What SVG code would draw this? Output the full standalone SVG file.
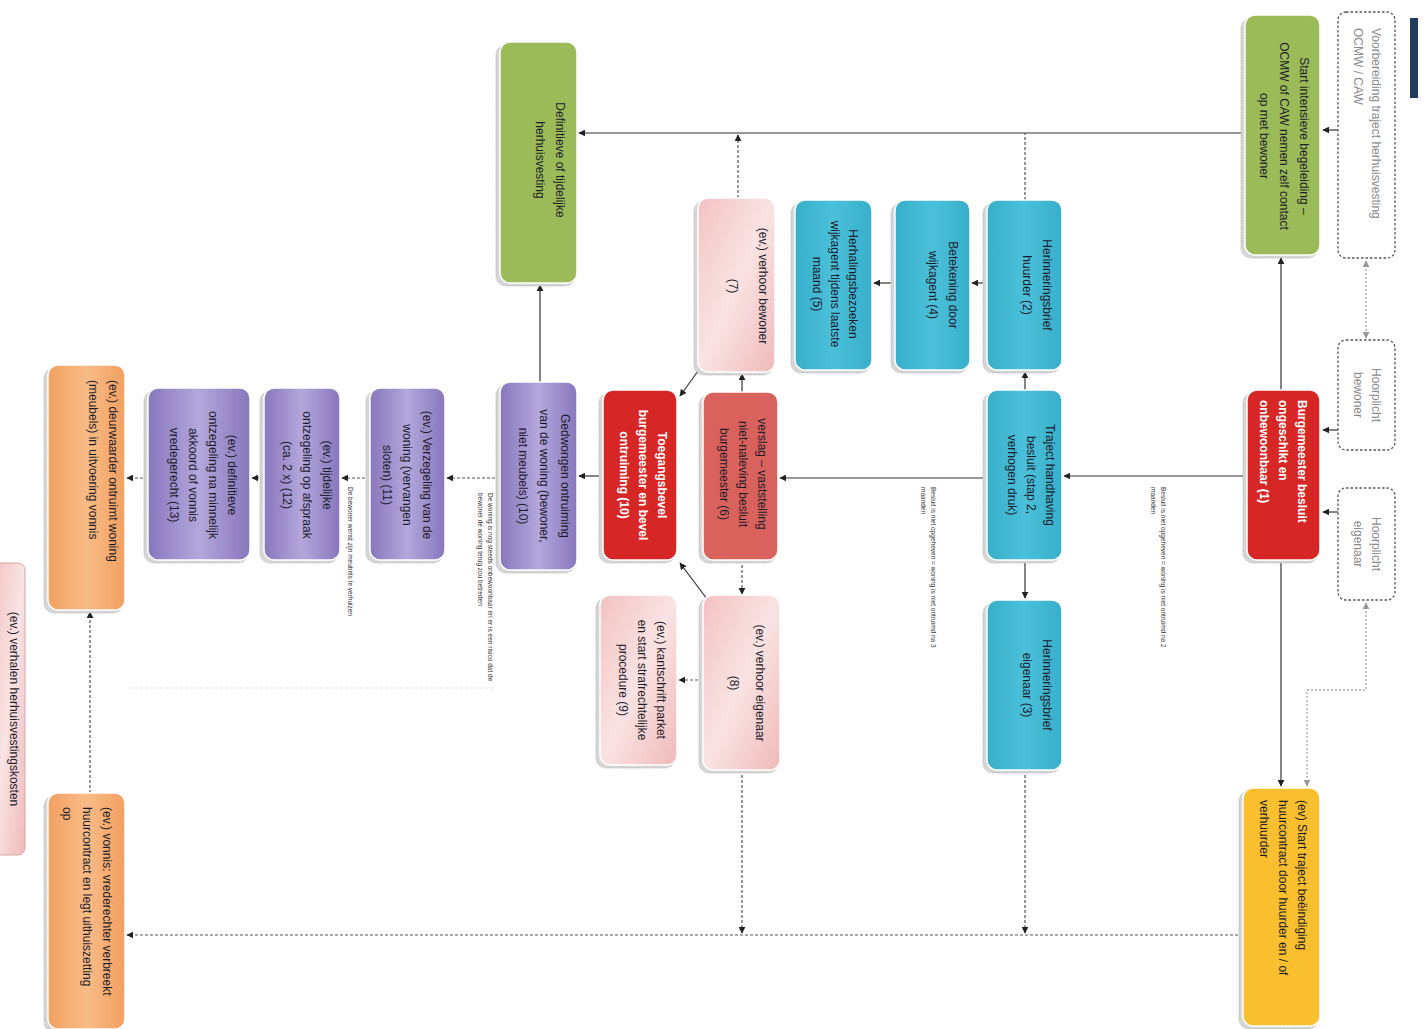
<svg xmlns="http://www.w3.org/2000/svg" width="1428" height="1029" viewBox="0 0 1428 1029">
<defs>
<marker id="ah" viewBox="0 0 10 10" refX="9" refY="5" markerWidth="7" markerHeight="7" orient="auto-start-reverse" markerUnits="userSpaceOnUse"><path d="M0,0 L10,5 L0,10 z" fill="#222"/></marker>
<marker id="ahg" viewBox="0 0 10 10" refX="9" refY="5" markerWidth="7" markerHeight="7" orient="auto-start-reverse" markerUnits="userSpaceOnUse"><path d="M0,0 L10,5 L0,10 z" fill="#999"/></marker>
<linearGradient id="gPink" x1="0" y1="0" x2="1" y2="1"><stop offset="0" stop-color="#f3c2c2"/><stop offset="0.5" stop-color="#fae3e3"/><stop offset="1" stop-color="#f0b9b9"/></linearGradient>
<linearGradient id="gPurple" x1="0" y1="0" x2="1" y2="0"><stop offset="0" stop-color="#8877bc"/><stop offset="0.5" stop-color="#b3a7dc"/><stop offset="1" stop-color="#8877bc"/></linearGradient>
<linearGradient id="gBlue" x1="0" y1="0" x2="1" y2="0"><stop offset="0" stop-color="#37afcb"/><stop offset="0.5" stop-color="#4cc0da"/><stop offset="1" stop-color="#37afcb"/></linearGradient>
<linearGradient id="gOrange" x1="0" y1="0" x2="1" y2="0"><stop offset="0" stop-color="#f3a060"/><stop offset="0.5" stop-color="#f8bb86"/><stop offset="1" stop-color="#f3a060"/></linearGradient>
</defs>
<style>
text{font-family:"Liberation Sans",Arial,sans-serif;font-size:12px;fill:#1c1c2a}
.w{fill:#ffffff;font-weight:bold}
.g{fill:#8a8a8a}
.sm{font-size:6.5px;fill:#333}
.sh{fill:#d6d6d6;stroke:#b0b0b0;stroke-width:0.8;stroke-dasharray:1.5 1}
.box{stroke:#ffffff;stroke-width:1.5}
.dash{fill:#ffffff;stroke:#555;stroke-width:1.3;stroke-dasharray:2.5 2}
.green{fill:#9bbb59}
.red{fill:#d72626}
.mred{fill:#d9625c}
.blue{fill:url(#gBlue)}
.pink{fill:url(#gPink)}
.purple{fill:url(#gPurple)}
.orange{fill:url(#gOrange)}
.yellow{fill:#f9bf2e}
.c{fill:none;stroke:#333;stroke-width:1.2}
.cd{fill:none;stroke:#555;stroke-width:1.2;stroke-dasharray:3 2}
.cg{fill:none;stroke:#aaa;stroke-width:1.4;stroke-dasharray:2 2}
</style>
<rect width="1428" height="1029" fill="#ffffff"/>
<rect x="1410" y="18" width="8" height="80" fill="#1f3c5c"/>

<g id="connectors">
<line class="c" x1="1338" y1="130" x2="1323" y2="130" marker-end="url(#ah)"/>
<line class="c" x1="1281" y1="390" x2="1281" y2="258" marker-end="url(#ah)"/>
<line class="c" x1="1281" y1="560" x2="1281" y2="786" marker-end="url(#ah)"/>
<line class="c" x1="1245" y1="133" x2="579" y2="133" marker-end="url(#ah)"/>
<line class="c" x1="1247" y1="476" x2="1064" y2="476" marker-end="url(#ah)"/>
<line class="c" x1="1338" y1="430" x2="1323" y2="430" marker-end="url(#ah)"/>
<line class="c" x1="1338" y1="512" x2="1323" y2="512" marker-end="url(#ah)"/>
<line class="cg" x1="1366" y1="261" x2="1366" y2="338" marker-start="url(#ahg)" marker-end="url(#ahg)"/>
<path class="cg" d="M1366,603 V690 H1307 V786" marker-start="url(#ahg)" marker-end="url(#ahg)"/>
<line class="cd" x1="1243" y1="935" x2="127" y2="935" marker-end="url(#ah)"/>
<line class="c" x1="1025" y1="390" x2="1025" y2="372" marker-end="url(#ah)"/>
<line class="c" x1="1025" y1="560" x2="1025" y2="598" marker-end="url(#ah)"/>
<line class="c" x1="987" y1="283" x2="972" y2="283" marker-end="url(#ah)"/>
<line class="c" x1="895" y1="283" x2="874" y2="283" marker-end="url(#ah)"/>
<line class="cd" x1="1025" y1="200" x2="1025" y2="133"/>
<line class="cd" x1="1025" y1="770" x2="1025" y2="933" marker-end="url(#ah)"/>
<line class="c" x1="987" y1="478" x2="780" y2="478" marker-end="url(#ah)"/>
<line class="c" x1="742" y1="392" x2="742" y2="374" marker-end="url(#ah)"/>
<line class="cd" x1="742" y1="560" x2="742" y2="594" marker-end="url(#ah)"/>
<line class="cd" x1="738" y1="198" x2="738" y2="135" marker-end="url(#ah)"/>
<line class="cd" x1="742" y1="770" x2="742" y2="933" marker-end="url(#ah)"/>
<line class="c" x1="706" y1="360" x2="680" y2="396" marker-end="url(#ah)"/>
<line class="c" x1="713" y1="607" x2="680" y2="563" marker-end="url(#ah)"/>
<line class="cd" x1="703" y1="680" x2="679" y2="680" marker-end="url(#ah)"/>
<line class="c" x1="603" y1="476" x2="579" y2="476" marker-end="url(#ah)"/>
<line class="c" x1="540" y1="382" x2="540" y2="285" marker-end="url(#ah)"/>
<line class="cd" x1="500" y1="478" x2="447" y2="478" marker-end="url(#ah)"/>
<line class="cd" x1="370" y1="478" x2="342" y2="478" marker-end="url(#ah)"/>
<line class="cd" x1="264" y1="478" x2="252" y2="478" marker-end="url(#ah)"/>
<line class="cd" x1="148" y1="478" x2="127" y2="478" marker-end="url(#ah)"/>
<line class="cd" x1="90" y1="793" x2="90" y2="612" marker-end="url(#ah)"/>
<line x1="130" y1="688" x2="495" y2="688" stroke="#e4e4e4" stroke-width="1.2" stroke-dasharray="3 2"/>
<text class="sm" transform="translate(1163,487) rotate(90)"><tspan x="0" y="2">Besluit is niet opgeheven = woning is niet ontruimd na 2</tspan><tspan x="0" dy="10">maanden</tspan></text>
<text class="sm" transform="translate(933,487) rotate(90)"><tspan x="0" y="2">Besluit is niet opgeheven = woning is niet ontruimd na 3</tspan><tspan x="0" dy="10">maanden</tspan></text>
<text class="sm" transform="translate(490,493) rotate(90)"><tspan x="0" y="2">De woning is nog steeds onbewoonbaar en er is een risico dat de</tspan><tspan x="0" dy="10">bewoner de woning terug zou betreden</tspan></text>
<text class="sm" transform="translate(350,487) rotate(90)"><tspan x="0" y="2">De bewoner wenst zijn meubels te verhuizen</tspan></text>
</g>

<g id="n-voorbereiding">
<rect class="dash" x="1338" y="12" width="57" height="246" rx="8"/>
<text class="g" transform="translate(1376,28) rotate(90)"><tspan x="0" y="4">Voorbereiding traject herhuisvesting</tspan><tspan x="0" dy="18">OCMW / CAW</tspan></text>
</g>
<g id="n-start">
<rect class="sh" x="1241" y="18" width="77" height="240" rx="10"/>
<rect class="box green" x="1245" y="15" width="75" height="240" rx="10"/>
<text text-anchor="middle" transform="translate(1304,136) rotate(90)"><tspan x="0" y="4">Start intensieve begeleiding –</tspan><tspan x="0" dy="20">OCMW of CAW nemen zelf contact</tspan><tspan x="0" dy="20">op met bewoner</tspan></text>
</g>
<g id="n-hoor-bewoner">
<rect class="dash" x="1338" y="340" width="57" height="110" rx="8"/>
<text class="g" text-anchor="middle" transform="translate(1376,395) rotate(90)"><tspan x="0" y="4">Hoorplicht</tspan><tspan x="0" dy="18">bewoner</tspan></text>
</g>
<g id="n-hoor-eigenaar">
<rect class="dash" x="1338" y="488" width="57" height="112" rx="8"/>
<text class="g" text-anchor="middle" transform="translate(1376,544) rotate(90)"><tspan x="0" y="4">Hoorplicht</tspan><tspan x="0" dy="18">eigenaar</tspan></text>
</g>
<g id="n-burgemeester">
<rect class="sh" x="1243" y="393" width="75" height="170" rx="10"/>
<rect class="box red" x="1247" y="390" width="73" height="170" rx="10"/>
<text class="w" transform="translate(1302,400) rotate(90)"><tspan x="0" y="4">Burgemeester besluit</tspan><tspan x="0" dy="19">ongeschikt en</tspan><tspan x="0" dy="19">onbewoonbaar (1)</tspan></text>
</g>
<g id="n-beeindiging">
<rect class="sh" x="1239" y="791" width="79" height="238" rx="10"/>
<rect class="box yellow" x="1243" y="788" width="77" height="238" rx="10"/>
<text transform="translate(1302,800) rotate(90)"><tspan x="0" y="4">(ev) Start traject beëindiging</tspan><tspan x="0" dy="19">huurcontract door huurder en / of</tspan><tspan x="0" dy="19">verhuurder</tspan></text>
</g>
<g id="n-herinnering-huurder">
<rect class="sh" x="983" y="203" width="77" height="170" rx="10"/>
<rect class="box blue" x="987" y="200" width="75" height="170" rx="10"/>
<text text-anchor="middle" transform="translate(1047,285) rotate(90)"><tspan x="0" y="4">Herinneringsbrief</tspan><tspan x="0" dy="20">huurder (2)</tspan></text>
</g>
<g id="n-traject-handhaving">
<rect class="sh" x="983" y="393" width="77" height="170" rx="10"/>
<rect class="box blue" x="987" y="390" width="75" height="170" rx="10"/>
<text text-anchor="middle" transform="translate(1050,475) rotate(90)"><tspan x="0" y="4">Traject handhaving</tspan><tspan x="0" dy="19">besluit (stap 2,</tspan><tspan x="0" dy="19">verhogen druk)</tspan></text>
</g>
<g id="n-herinnering-eigenaar">
<rect class="sh" x="983" y="603" width="77" height="170" rx="10"/>
<rect class="box blue" x="987" y="600" width="75" height="170" rx="10"/>
<text text-anchor="middle" transform="translate(1047,685) rotate(90)"><tspan x="0" y="4">Herinneringsbrief</tspan><tspan x="0" dy="20">eigenaar (3)</tspan></text>
</g>
<g id="n-betekening">
<rect class="sh" x="891" y="203" width="77" height="170" rx="10"/>
<rect class="box blue" x="895" y="200" width="75" height="170" rx="10"/>
<text text-anchor="middle" transform="translate(953,285) rotate(90)"><tspan x="0" y="4">Betekening door</tspan><tspan x="0" dy="20">wijkagent  (4)</tspan></text>
</g>
<g id="n-herhalingsbezoeken">
<rect class="sh" x="791" y="203" width="79" height="170" rx="10"/>
<rect class="box blue" x="795" y="200" width="77" height="170" rx="10"/>
<text text-anchor="middle" transform="translate(853,284) rotate(90)"><tspan x="0" y="4">Herhalingsbezoeken</tspan><tspan x="0" dy="18">wijkagent tijdens laatste</tspan><tspan x="0" dy="18">maand  (5)</tspan></text>
</g>
<g id="n-verhoor-bewoner">
<rect class="sh" x="694" y="201" width="79" height="174" rx="10"/>
<rect class="box pink" x="698" y="198" width="77" height="174" rx="10"/>
<text text-anchor="middle" transform="translate(763,286) rotate(90)"><tspan x="0" y="4">(ev.) verhoor bewoner</tspan><tspan x="0" dy="30">(7)</tspan></text>
</g>
<g id="n-verslag">
<rect class="sh" x="699" y="395" width="77" height="168" rx="10"/>
<rect class="box mred" x="703" y="392" width="75" height="168" rx="10"/>
<text text-anchor="middle" transform="translate(762,474) rotate(90)"><tspan x="0" y="4">verslag – vaststelling</tspan><tspan x="0" dy="19">niet-naleving  besluit</tspan><tspan x="0" dy="19">burgemeester (6)</tspan></text>
</g>
<g id="n-verhoor-eigenaar">
<rect class="sh" x="699" y="598" width="79" height="175" rx="10"/>
<rect class="box pink" x="703" y="595" width="77" height="175" rx="10"/>
<text text-anchor="middle" transform="translate(760,683) rotate(90)"><tspan x="0" y="4">(ev.) verhoor eigenaar</tspan><tspan x="0" dy="26">(8)</tspan></text>
</g>
<g id="n-toegangsbevel">
<rect class="sh" x="599" y="393" width="76" height="170" rx="10"/>
<rect class="box red" x="603" y="390" width="74" height="170" rx="10"/>
<text class="w" text-anchor="middle" transform="translate(662,475) rotate(90)"><tspan x="0" y="4">Toegangsbevel</tspan><tspan x="0" dy="19">burgemeester en bevel</tspan><tspan x="0" dy="19">ontruiming (10)</tspan></text>
</g>
<g id="n-kantschrift">
<rect class="sh" x="596" y="598" width="79" height="170" rx="10"/>
<rect class="box pink" x="600" y="595" width="77" height="170" rx="10"/>
<text text-anchor="middle" transform="translate(661,680) rotate(90)"><tspan x="0" y="4">(ev.) kantschrift parket</tspan><tspan x="0" dy="19">en start strafrechtelijke</tspan><tspan x="0" dy="19">procedure (9)</tspan></text>
</g>
<g id="n-herhuisvesting">
<rect class="sh" x="496" y="45" width="79" height="241" rx="10"/>
<rect class="box green" x="500" y="42" width="77" height="241" rx="10"/>
<text text-anchor="middle" transform="translate(560,160) rotate(90)"><tspan x="0" y="4">Definitieve of tijdelijke</tspan><tspan x="0" dy="20">herhuisvesting</tspan></text>
</g>
<g id="n-gedwongen">
<rect class="sh" x="496" y="385" width="79" height="188" rx="10"/>
<rect class="box purple" x="500" y="382" width="77" height="188" rx="10"/>
<text text-anchor="middle" transform="translate(565,476) rotate(90)"><tspan x="0" y="4">Gedwongen ontruiming</tspan><tspan x="0" dy="21">van de woning (bewoner,</tspan><tspan x="0" dy="21">niet meubels) (10)</tspan></text>
</g>
<g id="n-verzegeling">
<rect class="sh" x="366" y="391" width="77" height="172" rx="10"/>
<rect class="box purple" x="370" y="388" width="75" height="172" rx="10"/>
<text text-anchor="middle" transform="translate(427,475) rotate(90)"><tspan x="0" y="4">(ev.) Verzegeling van de</tspan><tspan x="0" dy="20">woning (vervangen</tspan><tspan x="0" dy="20">sloten) (11)</tspan></text>
</g>
<g id="n-tijdelijke">
<rect class="sh" x="260" y="391" width="78" height="172" rx="10"/>
<rect class="box purple" x="264" y="388" width="76" height="172" rx="10"/>
<text text-anchor="middle" transform="translate(327,475) rotate(90)"><tspan x="0" y="4">(ev.) tijdelijke</tspan><tspan x="0" dy="20">ontzegeling op afspraak</tspan><tspan x="0" dy="20">(ca. 2 x) (12)</tspan></text>
</g>
<g id="n-definitieve">
<rect class="sh" x="144" y="391" width="104" height="172" rx="10"/>
<rect class="box purple" x="148" y="388" width="102" height="172" rx="10"/>
<text text-anchor="middle" transform="translate(232,475) rotate(90)"><tspan x="0" y="4">(ev.) definitieve</tspan><tspan x="0" dy="19.5">ontzegeling na minnelijk</tspan><tspan x="0" dy="19.5">akkoord of vonnis</tspan><tspan x="0" dy="19.5">vredegerecht (13)</tspan></text>
</g>
<g id="n-deurwaarder">
<rect class="sh" x="44" y="368" width="79" height="245" rx="10"/>
<rect class="box orange" x="48" y="365" width="77" height="245" rx="10"/>
<text transform="translate(113,380) rotate(90)"><tspan x="0" y="4">(ev.) deurwaarder ontruimt woning</tspan><tspan x="0" dy="20">(meubels) in uitvoering vonnis</tspan></text>
</g>
<g id="n-vonnis">
<rect class="sh" x="44" y="796" width="79" height="236" rx="10"/>
<rect class="box orange" x="48" y="793" width="77" height="236" rx="10"/>
<text transform="translate(107,807) rotate(90)"><tspan x="0" y="4">(ev.) vonnis: vrederechter verbreekt</tspan><tspan x="0" dy="20">huurcontract en legt uithuiszetting</tspan><tspan x="0" dy="20">op</tspan></text>
</g>
<g id="n-verhalen">
<rect x="-8" y="563" width="33" height="292" rx="7" fill="url(#gPink)" stroke="#d8a8a8" stroke-width="1"/>
<text text-anchor="middle" transform="translate(14,709) rotate(90)"><tspan x="0" y="4">(ev.) verhalen herhuisvestingskosten</tspan></text>
</g>
</svg>
